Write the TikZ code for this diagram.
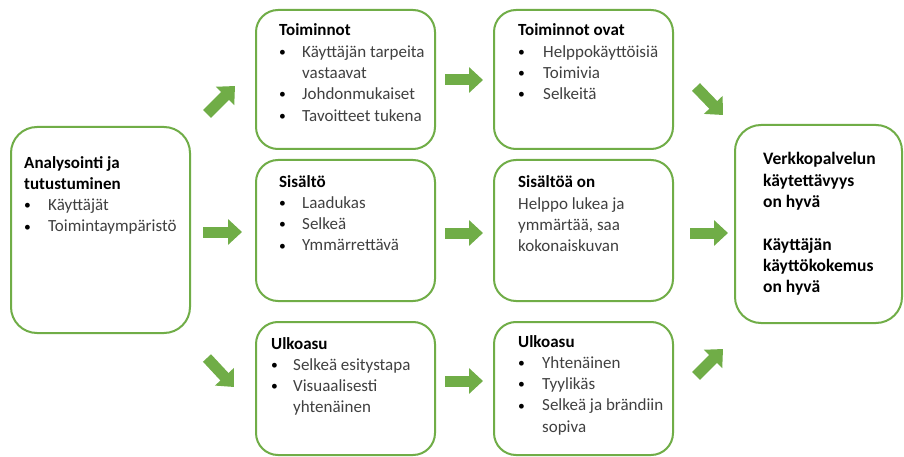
\documentclass[tikz,border=0pt]{standalone}
\usepackage{fontspec}
\setmainfont{Carlito}
\usetikzlibrary{arrows.meta}
\definecolor{boxgreen}{HTML}{70AD47}
\definecolor{bodygray}{HTML}{404040}
% list helpers: a bold heading row and a bulleted row
\newcommand\hd[1]{\multicolumn{2}{@{}l@{}}{\textcolor{black}{\bfseries #1}}}
\newcommand\bl{\raisebox{0.9pt}{\scalebox{0.8}{\textcolor{black}{\textbullet}}}}
\begin{document}
\begin{tikzpicture}[x=1pt,y=-1pt,
  box/.style={draw=boxgreen, line width=2pt, fill=white, rounded corners=22pt,
    anchor=north west, inner sep=0pt, outer sep=0pt},
  txt/.style={anchor=base west, inner sep=0pt, text=bodygray,
    font=\fontsize{17}{21.3}\selectfont},
  blockarrow/.style={draw=boxgreen, line width=11pt,
    -{Triangle[length=14pt,width=25pt]}}]
\useasboundingbox (0,0) rectangle (904,457);
\fill[white] (0,0) rectangle (904,457);

% boxes
\node[box, minimum width=179pt, minimum height=206pt, rounded corners=26pt] (a) at (11,127) {};
\node[box, minimum width=179pt, minimum height=139pt] (b1) at (256,10) {};
\node[box, minimum width=179pt, minimum height=141pt] (b2) at (256,160) {};
\node[box, minimum width=179pt, minimum height=133pt] (b3) at (256,322) {};
\node[box, minimum width=179pt, minimum height=139pt] (c1) at (494,10) {};
\node[box, minimum width=179pt, minimum height=141pt] (c2) at (494,160) {};
\node[box, minimum width=179pt, minimum height=133pt] (c3) at (494,322) {};
\node[box, minimum width=167pt, minimum height=198pt, rounded corners=26pt] (d) at (735,125) {};

% texts
\node[txt] (ta) at (24,168) {\begin{tabular}[t]{@{}p{24pt}@{}l@{}}
  \hd{Analysointi ja}\\ \hd{tutustuminen}\\ \bl & Käyttäjät\\ \bl & Toimintaympäristö
  \end{tabular}};
\node[txt] (tb1) at (279,36) {\begin{tabular}[t]{@{}p{23pt}@{}l@{}}
  \hd{Toiminnot}\\ \bl & Käyttäjän tarpeita\\ & vastaavat\\ \bl & Johdonmukaiset\\ \bl & Tavoitteet tukena
  \end{tabular}};
\node[txt] (tb2) at (279,187) {\begin{tabular}[t]{@{}p{23pt}@{}l@{}}
  \hd{Sisältö}\\ \bl & Laadukas\\ \bl & Selkeä\\ \bl & Ymmärrettävä
  \end{tabular}};
\node[txt] (tb3) at (271,349) {\begin{tabular}[t]{@{}p{22pt}@{}l@{}}
  \hd{Ulkoasu}\\ \bl & Selkeä esitystapa\\ \bl & Visuaalisesti\\ & yhtenäinen
  \end{tabular}};
\node[txt] (tc1) at (518,36) {\begin{tabular}[t]{@{}p{25pt}@{}l@{}}
  \hd{Toiminnot ovat}\\ \bl & Helppokäyttöisiä\\ \bl & Toimivia\\ \bl & Selkeitä
  \end{tabular}};
\node[txt] (tc2) at (518,188) {\begin{tabular}[t]{@{}l@{}}
  \textcolor{black}{\bfseries Sisältöä on}\\ Helppo lukea ja\\ ymmärtää, saa\\ kokonaiskuvan
  \end{tabular}};
\node[txt] (tc3) at (518,347) {\begin{tabular}[t]{@{}p{24pt}@{}l@{}}
  \hd{Ulkoasu}\\ \bl & Yhtenäinen\\ \bl & Tyylikäs\\ \bl & Selkeä ja brändiin\\ & sopiva
  \end{tabular}};
\node[txt, text=black, font=\fontsize{17.5}{21.3}\selectfont\bfseries] (td) at (763,165) {\begin{tabular}[t]{@{}l@{}}
  Verkkopalvelun\\ käytettävyys\\ on hyvä\\[21.3pt] Käyttäjän\\ käyttökokemus\\ on hyvä
  \end{tabular}};

% arrow end points
\coordinate (a1s) at (207,114); \coordinate (a1e) at (235,86);
\coordinate (a2s) at (203,232); \coordinate (a2e) at (242,232);
\coordinate (a3s) at (207,358); \coordinate (a3e) at (234,387);
\coordinate (b1s) at (445,80);  \coordinate (b1e) at (483,80);
\coordinate (b2s) at (445,233); \coordinate (b2e) at (483,233);
\coordinate (b3s) at (445,381); \coordinate (b3e) at (483,381);
\coordinate (c1s) at (696,87);  \coordinate (c1e) at (723,115);
\coordinate (c2s) at (690,233); \coordinate (c2e) at (728,233);
\coordinate (c3s) at (696,376); \coordinate (c3e) at (723,349);

% block arrows
\foreach \p in {a1,a2,a3,b1,b2,b3,c1,c2,c3}
  \draw[blockarrow] (\p s) -- (\p e);
\end{tikzpicture}
\end{document}
